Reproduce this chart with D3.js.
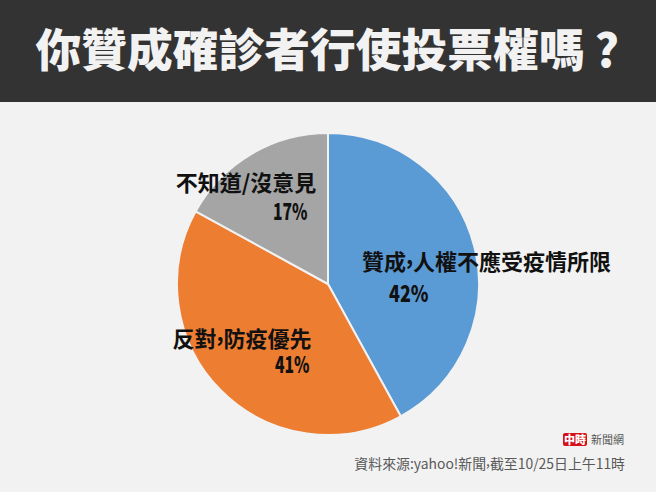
<!DOCTYPE html>
<html><head><meta charset="utf-8">
<script src="https://cdn.jsdelivr.net/npm/d3@7"></script>
<style>html,body{margin:0;padding:0;background:#f2f2f2}svg{display:block}text{font-family:"Noto Sans CJK TC","Noto Sans",sans-serif}</style>
</head><body><svg id="c" width="656" height="492"></svg>
<script>
const titleMain = "你贊成確診者行使投票權嗎";
const titleMark = "?";
const categories = ["贊成,人權不應受疫情所限","反對,防疫優先","不知道/沒意見"];
const values = [42,41,17];
const valueLabels = ["42%","41%","17%"];
const colors = ["#5b9bd5","#ed7d31","#a5a5a5"];
const source = "資料來源:yahoo!新聞,截至10/25日上午11時";
const svg = d3.select("#c");
function raisedComma(sel, str, lift){
  str.split(/(,)/).filter(s=>s).forEach((p,i,a)=>{
    const isC = p===",", prevC = i>0 && a[i-1]===",";
    sel.append("tspan").attr("dy", isC ? -lift : (prevC ? lift : 0)).text(p);
  });
}
svg.append("rect").attr("width",656).attr("height",492).attr("fill","#f2f2f2");
svg.append("rect").attr("width",656).attr("height",102).attr("fill","#333333");
const tt = svg.append("text").attr("x",35.5).attr("y",67).attr("fill","#f2f2f2")
 .attr("font-size",45.75).attr("font-weight",900);
tt.append("tspan").text(titleMain);
tt.append("tspan").attr("dx",10).text(titleMark);
const pie = d3.pie().sort(null).value(d=>d)(values);
const arc = d3.arc().innerRadius(0).outerRadius(151);
const g = svg.append("g").attr("transform","translate(328,284)");
g.selectAll("path").data(pie).join("path").attr("d",arc).attr("fill",(d,i)=>colors[i]).attr("stroke","#f2f2f2").attr("stroke-width",2);
const nameAnchors=[[486.5,270],[242,346.5],[246,190.5]];
const valAnchors=[[389,302],[275,373],[273,220]];
const valWidths=[39.5,34.5,34.5];
categories.forEach((c,i)=>{
 const t=svg.append("text").attr("x",nameAnchors[i][0]).attr("y",nameAnchors[i][1]).attr("text-anchor","middle").attr("font-size",22).attr("font-weight",700).attr("fill","#111");
 raisedComma(t,c,6);
 svg.append("text").attr("x",valAnchors[i][0]).attr("y",valAnchors[i][1]).attr("font-size",23).attr("font-weight",900).attr("fill","#111").attr("textLength",valWidths[i]).attr("lengthAdjust","spacingAndGlyphs").text(valueLabels[i]);
});
const s=svg.append("text").attr("x",625).attr("y",469).attr("text-anchor","end").attr("font-size",13.9).attr("fill","#595959");
raisedComma(s,source,3);
svg.append("rect").attr("x",563).attr("y",433).attr("width",24).attr("height",13).attr("rx",2).attr("fill","#d7111b");
svg.append("text").attr("x",575).attr("y",444).attr("text-anchor","middle").attr("font-size",11).attr("font-weight",900).attr("fill","#fff").text("中時");
svg.append("text").attr("x",591).attr("y",444).attr("font-size",11).attr("fill","#555").text("新聞網");
</script></body></html>
